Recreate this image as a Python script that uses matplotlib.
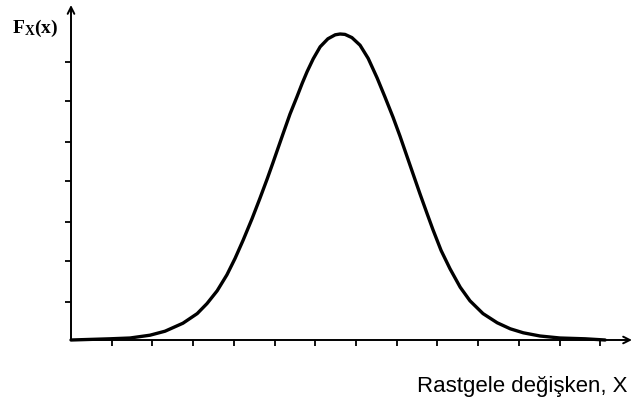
import matplotlib
matplotlib.use("Agg")
import matplotlib.pyplot as plt

# Curve points (x in x-tick units, y in y-tick units)
curve_x = [0.00, 0.96, 1.45, 1.94, 2.31, 2.75, 3.10, 3.34, 3.59, 3.83, 4.03, 4.23,
           4.45, 4.64, 4.82, 4.96, 5.09, 5.21, 5.38, 5.55, 5.68, 5.80, 5.95, 6.12,
           6.31, 6.49, 6.61, 6.73, 6.90, 7.10, 7.30, 7.52, 7.71, 7.91, 8.08, 8.26,
           8.43, 8.57, 8.75, 8.89, 9.09, 9.31, 9.56, 9.80, 10.12, 10.47, 10.79,
           11.11, 11.52, 12.01, 12.63, 13.12]
curve_y = [0.00, 0.03, 0.05, 0.12, 0.22, 0.42, 0.66, 0.91, 1.23, 1.63, 2.04, 2.50,
           3.04, 3.54, 4.03, 4.43, 4.81, 5.16, 5.65, 6.08, 6.42, 6.71, 7.03, 7.33,
           7.53, 7.63, 7.65, 7.64, 7.56, 7.37, 7.04, 6.55, 6.08, 5.57, 5.10, 4.57,
           4.07, 3.66, 3.15, 2.76, 2.24, 1.78, 1.32, 0.98, 0.66, 0.43, 0.28,
           0.18, 0.10, 0.05, 0.03, 0.00]

x_ticks = [1, 2, 3, 4, 5, 6, 7, 8, 9, 10, 11, 12, 13]
y_ticks = [0.95, 1.97, 2.95, 3.97, 4.95, 5.97, 6.95]

y_label = r"$\mathbf{F_X(x)}$"
x_label = "Rastgele değişken, X"

W, H = 633, 401
fig = plt.figure(figsize=(W / 100, H / 100), dpi=100)
left, right, bottom, top = 71, 632, 340, 5
ax = fig.add_axes([left / W, (H - bottom) / H, (right - left) / W, (bottom - top) / H])
xmax, ymax = 13.78, 8.375
ax.set_xlim(0, xmax)
ax.set_ylim(0, ymax)

for s in ax.spines.values():
    s.set_visible(False)

ax.plot(curve_x, curve_y, color="black", lw=2.4, solid_capstyle="round",
        solid_joinstyle="round", clip_on=False, zorder=3)

# axes with arrows
ax.annotate("", xy=(xmax, 0), xytext=(0, 0),
            arrowprops=dict(arrowstyle="->", lw=1.4, color="black", mutation_scale=12,
                            shrinkA=0, shrinkB=0), annotation_clip=False)
ax.annotate("", xy=(0, ymax), xytext=(0, 0),
            arrowprops=dict(arrowstyle="->", lw=1.4, color="black", mutation_scale=12,
                            shrinkA=0, shrinkB=0), annotation_clip=False)

ax.set_xticks(x_ticks)
ax.set_yticks(y_ticks)
ax.set_xticklabels([])
ax.set_yticklabels([])
ax.tick_params(axis="x", direction="out", length=4, width=1.3, color="black")
ax.tick_params(axis="y", direction="out", length=4, width=1.3, color="black")

plt.rcParams["mathtext.fontset"] = "custom"
plt.rcParams["mathtext.rm"] = "Liberation Serif:bold"
plt.rcParams["mathtext.bf"] = "Liberation Serif:bold"
plt.rcParams["mathtext.it"] = "Liberation Serif:bold"
fig.text(12 / W, 1 - 33 / H, y_label, fontsize=14, ha="left", va="baseline")

fig.text(417 / W, 1 - 392 / H, x_label, fontsize=16, family="Liberation Sans",
         ha="left", va="baseline")

fig.savefig("out.png", dpi=100)
